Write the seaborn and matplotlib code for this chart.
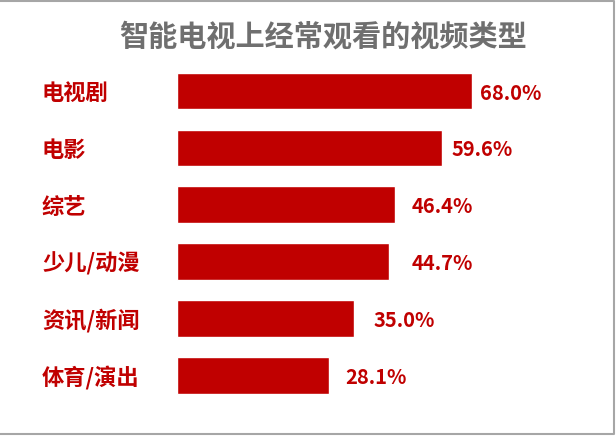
import matplotlib
matplotlib.use('Agg')
import matplotlib.pyplot as plt
from matplotlib.lines import Line2D
import pandas as pd
import seaborn as sns

# Chart data
title = '智能电视上经常观看的视频类型'
categories = ['电视剧', '电影', '综艺', '少儿/动漫', '资讯/新闻', '体育/演出']
shares = [68.0, 59.6, 46.4, 44.7, 35.0, 28.1]

# The original axis starts below zero and bars grow from the axis minimum
axis_min = -14.3
# hand-placed label gaps in the original (points)
label_offsets = [5.8, 7.2, 12.4, 16.8, 14.0, 11.5]

RED = '#C00000'

sns.set_theme(style='white')
plt.rcParams['font.family'] = ['Noto Sans CJK SC', 'DejaVu Sans']

df = pd.DataFrame({'category': categories, 'share': shares})
df['length'] = df['share'] - axis_min

fig = plt.figure(figsize=(6.16, 4.36), dpi=100)
ax = fig.add_axes([177 / 616, 32.3 / 436, 435 / 616, 341.1 / 436])

sns.barplot(data=df, x='length', y='category', order=categories,
            color=RED, saturation=1, width=0.645, ax=ax)

ax.set_xlim(0, 435 / 3.585)
ax.set_ylim(5.5, -0.5)
ax.set_xticks([])
ax.set_xlabel('')
ax.set_ylabel('')
for side in ax.spines.values():
    side.set_visible(False)

# category labels, left aligned at the figure margin
ax.tick_params(axis='y', length=0, pad=(177 - 42) * 0.72,
               labelsize=16, labelcolor=RED)
for t in ax.get_yticklabels():
    t.set_ha('left')
    t.set_fontweight('bold')

# value labels
for i, (length, share) in enumerate(zip(df['length'], df['share'])):
    ax.annotate(f'{share:.1f}%', xy=(length, i), xytext=(label_offsets[i], -1.5),
                textcoords='offset points', ha='left', va='center',
                fontsize=14.5, fontweight='bold', color=RED)

fig.text(323 / 616, 1 - 36.5 / 436, title, ha='center', va='center',
         fontsize=21, fontweight='bold', color='#6F6F6F')

# thin gray frame (top, right, bottom)
fig.add_artist(Line2D([0, 614 / 616, 614 / 616, 0],
                      [1 - 1 / 436, 1 - 1 / 436, 1 - 434 / 436, 1 - 434 / 436],
                      transform=fig.transFigure, color='#A6A6A6', lw=1.5))

fig.savefig('out.png', dpi=100)
